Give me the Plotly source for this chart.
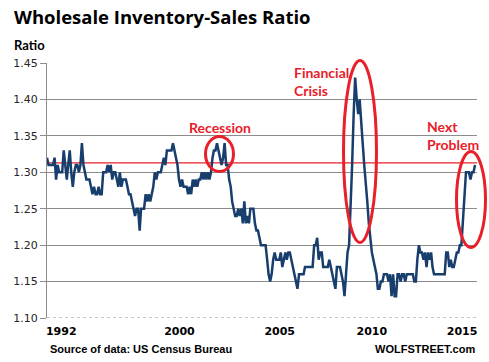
import pandas as pd
import plotly.graph_objects as go

# Monthly wholesale inventory-to-sales ratio, Jan 1992 - Jul 2015
r1992 = [1.32, 1.31, 1.31, 1.31, 1.31, 1.32, 1.29, 1.31, 1.30, 1.30, 1.30, 1.33]
r1993 = [1.31, 1.29, 1.31, 1.33, 1.30, 1.28, 1.30, 1.31, 1.31, 1.30, 1.31, 1.34]
r1994 = [1.31, 1.30, 1.29, 1.29, 1.29, 1.28, 1.27, 1.28, 1.27, 1.27, 1.28, 1.27]
r1995 = [1.27, 1.30, 1.30, 1.30, 1.31, 1.30, 1.31, 1.29, 1.30, 1.30, 1.29, 1.28]
r1996 = [1.30, 1.28, 1.29, 1.29, 1.29, 1.28, 1.27, 1.27, 1.26, 1.25, 1.24, 1.25]
r1997 = [1.25, 1.22, 1.25, 1.25, 1.25, 1.27, 1.26, 1.27, 1.26, 1.27, 1.28, 1.30]
r1998 = [1.29, 1.30, 1.30, 1.30, 1.31, 1.32, 1.31, 1.33, 1.33, 1.33, 1.33, 1.34]
r1999 = [1.33, 1.32, 1.31, 1.29, 1.28, 1.29, 1.28, 1.28, 1.28, 1.27, 1.28, 1.27]
r2000 = [1.29, 1.28, 1.29, 1.28, 1.29, 1.29, 1.30, 1.29, 1.30, 1.29, 1.30, 1.29]
r2001 = [1.30, 1.32, 1.33, 1.33, 1.34, 1.33, 1.32, 1.31, 1.32, 1.34, 1.31, 1.31]
r2002 = [1.29, 1.28, 1.26, 1.25, 1.24, 1.24, 1.25, 1.24, 1.25, 1.23, 1.26, 1.23]
r2003 = [1.24, 1.23, 1.25, 1.25, 1.25, 1.23, 1.22, 1.22, 1.21, 1.20, 1.20, 1.20]
r2004 = [1.20, 1.18, 1.16, 1.15, 1.16, 1.18, 1.19, 1.18, 1.18, 1.18, 1.19, 1.17]
r2005 = [1.18, 1.19, 1.18, 1.19, 1.19, 1.18, 1.17, 1.16, 1.15, 1.14, 1.16, 1.16]
r2006 = [1.16, 1.16, 1.17, 1.17, 1.17, 1.17, 1.17, 1.17, 1.20, 1.20, 1.21, 1.18]
r2007 = [1.19, 1.19, 1.17, 1.17, 1.17, 1.17, 1.18, 1.17, 1.16, 1.15, 1.14, 1.17]
r2008 = [1.17, 1.17, 1.16, 1.15, 1.13, 1.16, 1.19, 1.20, 1.25, 1.31, 1.38, 1.43]
r2009 = [1.40, 1.38, 1.40, 1.36, 1.34, 1.31, 1.29, 1.26, 1.23, 1.21, 1.19, 1.18]
r2010 = [1.17, 1.16, 1.14, 1.14, 1.15, 1.15, 1.16, 1.16, 1.16, 1.15, 1.16, 1.13]
r2011 = [1.16, 1.13, 1.13, 1.16, 1.16, 1.15, 1.16, 1.16, 1.15, 1.16, 1.16, 1.16]
r2012 = [1.16, 1.16, 1.15, 1.15, 1.18, 1.20, 1.19, 1.19, 1.18, 1.19, 1.17, 1.19]
r2013 = [1.18, 1.19, 1.17, 1.16, 1.16, 1.16, 1.16, 1.16, 1.16, 1.16, 1.16, 1.19]
r2014 = [1.19, 1.17, 1.18, 1.17, 1.17, 1.18, 1.19, 1.19, 1.20, 1.20, 1.23, 1.26]
r2015 = [1.30, 1.30, 1.30, 1.29, 1.30, 1.30, 1.31]

ratio = (r1992 + r1993 + r1994 + r1995 + r1996 + r1997 + r1998 + r1999 + r2000
         + r2001 + r2002 + r2003 + r2004 + r2005 + r2006 + r2007 + r2008 + r2009
         + r2010 + r2011 + r2012 + r2013 + r2014 + r2015)
months = pd.date_range("1992-01-01", periods=len(ratio), freq="MS")

reference_level = 1.313
year_labels = ["1992", "2000", "2005", "2010", "2015"]
year_label_dates = ["1992-10-13", "1999-04-10", "2004-10-10", "2009-11-01", "2014-10-15"]
y_ticks = [1.10, 1.15, 1.20, 1.25, 1.30, 1.35, 1.40, 1.45]

NAVY = "#173E6D"
RED = "#E8202A"
GRID = "#8C8C8C"

fig = go.Figure()
fig.add_trace(go.Scatter(x=months, y=ratio, mode="lines",
                         line=dict(color=NAVY, width=2.5), hoverinfo="skip"))

shapes = [
    dict(type="line", xref="paper", yref="y", x0=0, x1=1, y0=1.10, y1=1.10,
         line=dict(color="white", width=2), layer="above"),
    dict(type="line", xref="paper", yref="y", x0=0, x1=1, y0=1.10, y1=1.10,
         line=dict(color=GRID, width=1, dash="dot"), layer="above"),
    dict(type="line", xref="paper", yref="y", x0=0, x1=1, y0=reference_level, y1=reference_level,
         line=dict(color=RED, width=1.2), layer="below"),
    dict(type="circle", xref="paper", yref="paper", x0=0.3686, x1=0.4337, y0=0.5745, y1=0.7118,
         line=dict(color=RED, width=3)),
    dict(type="circle", xref="paper", yref="paper", x0=0.6895, x1=0.7663, y0=0.2961, y1=1.0098,
         line=dict(color=RED, width=3)),
    dict(type="circle", xref="paper", yref="paper", x0=0.9523, x1=1.0198, y0=0.2765, y1=0.6529,
         line=dict(color=RED, width=3)),
]

annotations = [
    dict(text="Wholesale Inventory-Sales Ratio", xref="paper", yref="paper", x=-0.0814, y=1.184,
         xanchor="left", yanchor="middle", showarrow=False,
         font=dict(family="Open Sans", size=18.5, color="#000000", weight="bold")),
    dict(text="Ratio", xref="paper", yref="paper", x=-0.0814, y=1.0706,
         xanchor="left", yanchor="middle", showarrow=False,
         font=dict(family="Lato", size=13, color="#000000", weight="bold")),
    dict(text="Source of data: US Census Bureau", xref="paper", yref="paper", x=0.0023, y=-0.1216,
         xanchor="left", yanchor="middle", showarrow=False,
         font=dict(family="Liberation Sans", size=11, color="#000000", weight="bold")),
    dict(text="WOLFSTREET.com", xref="paper", yref="paper", x=1.0, y=-0.1216,
         xanchor="right", yanchor="middle", showarrow=False,
         font=dict(family="Liberation Sans", size=11, color="#000000", weight="bold")),
    dict(text="Recession", xref="paper", yref="paper", x=0.325, y=0.749,
         xanchor="left", yanchor="middle", showarrow=False, align="left",
         font=dict(family="Lato", size=14, color=RED, weight="bold")),
    dict(text="Financial<br>Crisis", xref="paper", yref="paper", x=0.569, y=0.9275,
         xanchor="left", yanchor="middle", showarrow=False, align="left",
         font=dict(family="Lato", size=14, color=RED, weight="bold")),
    dict(text="Next<br>Problem", xref="paper", yref="paper", x=0.879, y=0.7145,
         xanchor="left", yanchor="middle", showarrow=False, align="left",
         font=dict(family="Lato", size=14, color=RED, weight="bold")),
]

fig.update_layout(
    width=489, height=362,
    margin=dict(l=47, r=12, t=63, b=44),
    paper_bgcolor="white", plot_bgcolor="white",
    showlegend=False, hovermode=False,
    shapes=shapes, annotations=annotations,
    xaxis=dict(type="date", range=["1992-01-01", "2015-08-10"],
               tickmode="array", tickvals=year_label_dates, ticktext=year_labels,
               showgrid=False, zeroline=False, showline=False, ticks="",
               ticklabelstandoff=5,
               tickfont=dict(family="DejaVu Sans", size=11, color="#000000", weight="bold")),
    yaxis=dict(range=[1.10, 1.45], tickmode="array", tickvals=y_ticks,
               tickformat=".2f", showgrid=True, gridcolor=GRID, gridwidth=1,
               zeroline=False, showline=True, linecolor=GRID, linewidth=1,
               ticks="outside", ticklen=6, tickcolor=GRID,
               tickfont=dict(family="DejaVu Sans", size=11, color="#262626")),
)

fig.write_html("out.html", config={"displayModeBar": False, "staticPlot": True},
               post_script="document.body.style.margin='0';document.body.style.padding='0';")
